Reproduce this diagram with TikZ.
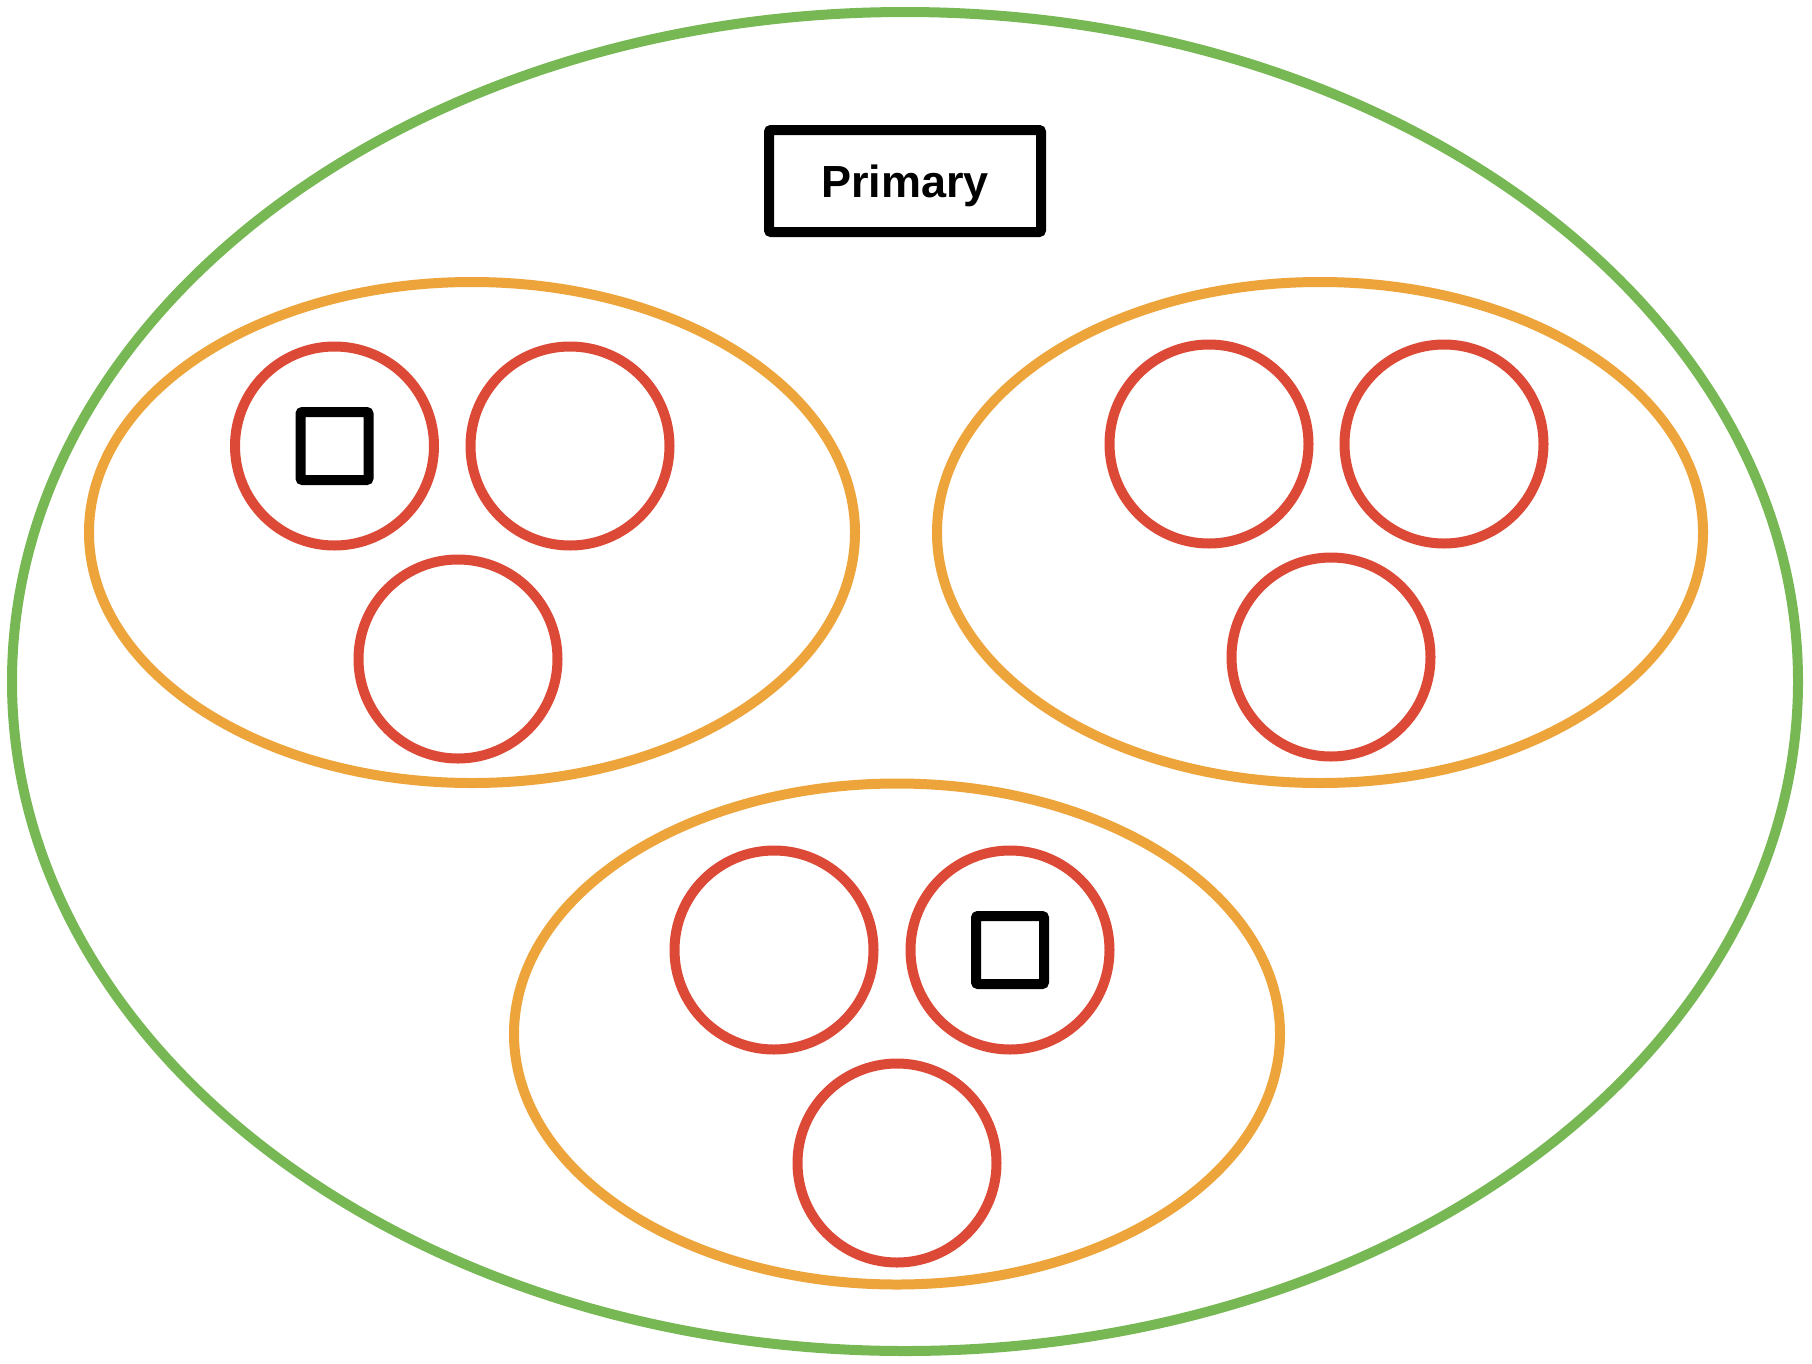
\documentclass[tikz,border=0pt]{standalone}
\usepackage{fontspec}
\setsansfont{Liberation Sans}
\usetikzlibrary{shapes,positioning}
\definecolor{tiergreen}{RGB}{119,184,85}
\definecolor{tierorange}{RGB}{237,164,58}
\definecolor{tierred}{RGB}{220,74,55}

\begin{document}
\begin{tikzpicture}[x=1pt, y=-1pt,
  outerset/.style = {ellipse, draw=tiergreen, line width=10pt, inner sep=0pt,
                     minimum width=1786pt, minimum height=1339pt},
  groupset/.style = {ellipse, draw=tierorange, line width=10pt, inner sep=0pt,
                     minimum width=766pt, minimum height=501pt},
  member/.style   = {circle, draw=tierred, line width=10pt, inner sep=0pt,
                     minimum size=199pt},
  marker/.style   = {rectangle, draw=black, line width=10pt, rounded corners=2pt,
                     inner sep=0pt, minimum size=68pt},
  titlebox/.style = {rectangle, draw=black, line width=10pt, rounded corners=2pt,
                     minimum width=272pt, minimum height=102pt, text depth=0pt,
                     font=\sffamily\bfseries\fontsize{45}{54}\selectfont}]

  \useasboundingbox (0,0) rectangle (1812,1363);

  \node[outerset] (all) at (905,681.5) {};
  \node[titlebox] (primary) at (905,181) {Primary};

  % groups
  \node[groupset] (left)   at (472,532.5) {};
  \node[groupset] (right)  at (1320,532.5) {};
  \node[groupset] (bottom) at (897,1034) {};

  % members of each group
  \node[member] (l1) at (334.5,446) {};
  \node[member] (l2) at (570,446) {};
  \node[member] (l3) at (458,659) {};

  \node[member] (r1) at (1209,444) {};
  \node[member] (r2) at (1444,444) {};
  \node[member] (r3) at (1331,657) {};

  \node[member] (b1) at (774,950) {};
  \node[member] (b2) at (1010,950) {};
  \node[member] (b3) at (897,1163) {};

  % markers
  \node[marker] (m1) at (l1) {};
  \node[marker] (m2) at (b2) {};

\end{tikzpicture}
\end{document}
